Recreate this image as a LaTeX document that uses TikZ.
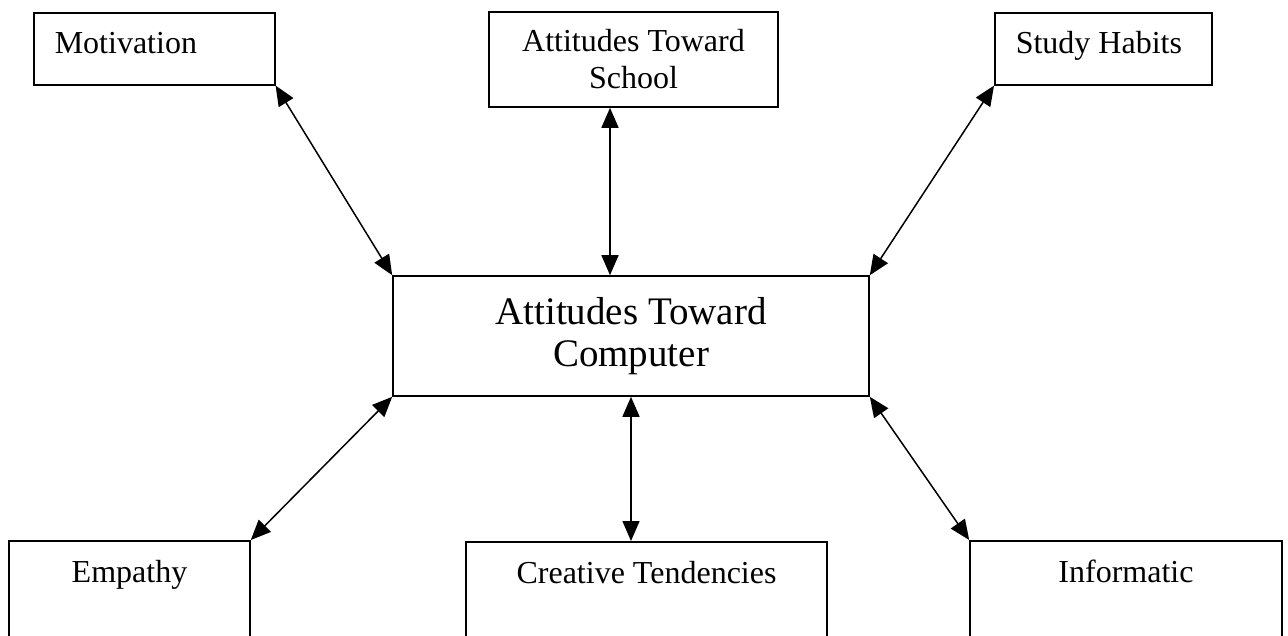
\documentclass[tikz,border=0pt]{standalone}
\usepackage{fontspec}
\setmainfont{Liberation Serif}
\usetikzlibrary{arrows.meta}

\begin{document}
\begin{tikzpicture}[
  x=1pt,y=-1pt,
  box/.style={draw,line width=1.6pt,inner sep=0pt,font=\fontsize{32}{37}\selectfont},
  labelbox/.style={box,anchor=north west,inner xsep=21pt,align=flush left,text height=41pt,text depth=31pt},
  openbox/.style={box,anchor=north,text height=42pt,text depth=140pt},
  link/.style={{Triangle[length=20pt,width=17pt]}-{Triangle[length=20pt,width=17pt]},line width=1.5pt}
]
  \clip (0,0) rectangle (1288,635);

  \node[labelbox,text width=199pt] (motivation) at (33,12) {Motivation};
  \node[box,minimum width=289pt,minimum height=95pt,align=center] (school-attitude) at (633.5,59.5) {Attitudes Toward\\School};
  \node[labelbox,text width=175pt] (study-habits) at (994,12) {Study Habits};

  \node[box,minimum width=476pt,minimum height=120pt,align=center,font=\fontsize{39}{42}\selectfont] (computer-attitude) at (631,336) {Attitudes Toward\\Computer};

  \node[openbox,minimum width=241pt] (empathy) at (129.5,540) {Empathy};
  \node[openbox,minimum width=361pt] (creative-tendencies) at (646.5,541) {Creative Tendencies};
  \node[openbox,minimum width=312pt] (informatic) at (1126,540) {Informatic};

  \coordinate (school-foot) at ([xshift=-23.5pt]school-attitude.south);

  \foreach \from/\to in {motivation.south east/computer-attitude.north west,
                         study-habits.south west/computer-attitude.north east,
                         computer-attitude.south west/empathy.north east,
                         computer-attitude.south east/informatic.north west}
    \draw[link] (\from) -- (\to);
  \draw[link] (school-foot) -- (school-foot |- computer-attitude.north);
  \draw[link] (computer-attitude.south) -- (computer-attitude.south |- creative-tendencies.north);
\end{tikzpicture}
\end{document}
